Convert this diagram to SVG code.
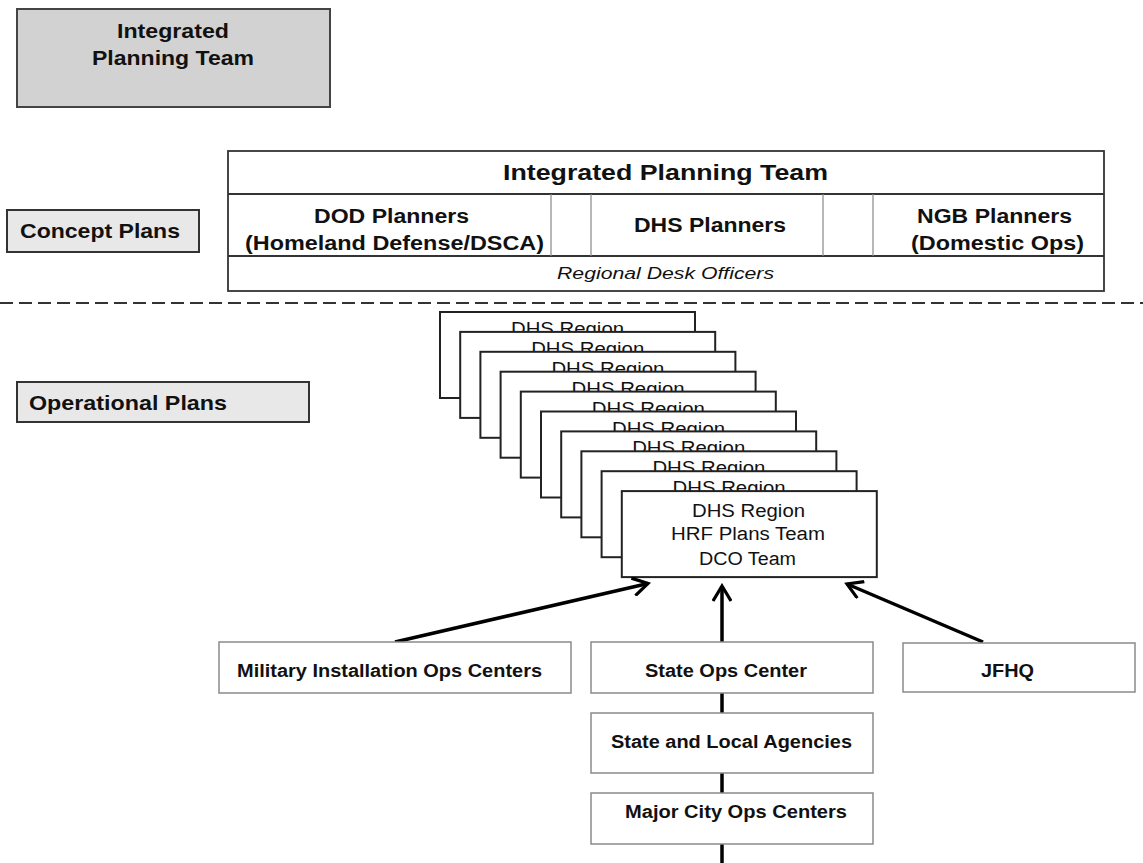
<svg xmlns="http://www.w3.org/2000/svg" width="1143" height="863" viewBox="0 0 1143 863">
<defs>
<style>
text{font-family:"Liberation Sans",Arial,sans-serif;fill:#111;}
.b{font-weight:bold;}
.lbl{fill:#e8e8e8;stroke:#333;stroke-width:2;}
.dhs{fill:#fff;stroke:#222;stroke-width:2;}
.bot{fill:#fff;stroke:#8a8a8a;stroke-width:1.5;}
.conn{stroke:#000;stroke-width:3.5;fill:none;}
.div{stroke:#888;stroke-width:1.2;}
</style>
<marker id="arr" viewBox="0 0 20 20" refX="17" refY="10" markerWidth="20" markerHeight="20" markerUnits="userSpaceOnUse" orient="auto">
<path d="M2,1 L17,10 L2,19" fill="none" stroke="#000" stroke-width="3.2" stroke-linejoin="miter"/>
</marker>
</defs>
<rect width="1143" height="863" fill="#fff"/>

<g id="ipt-top">
<rect x="17" y="9" width="313" height="98" fill="#d2d2d2" stroke="#444" stroke-width="2"/>
<text class="b" x="173" y="38" font-size="21" text-anchor="middle" textLength="112" lengthAdjust="spacingAndGlyphs">Integrated</text>
<text class="b" x="173" y="65" font-size="21" text-anchor="middle" textLength="162" lengthAdjust="spacingAndGlyphs">Planning Team</text>
</g>

<g id="concept-plans">
<rect class="lbl" x="7" y="210" width="192" height="42"/>
<text class="b" x="20" y="238" font-size="21" textLength="160" lengthAdjust="spacingAndGlyphs">Concept Plans</text>
</g>

<g id="operational-plans">
<rect class="lbl" x="17" y="382" width="292" height="40"/>
<text class="b" x="29" y="410" font-size="21" textLength="198" lengthAdjust="spacingAndGlyphs">Operational Plans</text>
</g>

<g id="ipt-table">
<rect x="228" y="151" width="876" height="140" fill="#fff" stroke="#333" stroke-width="1.8"/>
<line x1="228" y1="194" x2="1104" y2="194" stroke="#333" stroke-width="1.8"/>
<line x1="228" y1="256" x2="1104" y2="256" stroke="#333" stroke-width="1.8"/>
<line class="div" x1="551" y1="194" x2="551" y2="256"/>
<line class="div" x1="591" y1="194" x2="591" y2="256"/>
<line class="div" x1="823" y1="194" x2="823" y2="256"/>
<line class="div" x1="873" y1="194" x2="873" y2="256"/>
<text class="b" x="665.5" y="180" font-size="22" text-anchor="middle" textLength="325" lengthAdjust="spacingAndGlyphs">Integrated Planning Team</text>
<text class="b" x="391.5" y="223" font-size="20" text-anchor="middle" textLength="155" lengthAdjust="spacingAndGlyphs">DOD Planners</text>
<text class="b" x="394.5" y="250" font-size="20" text-anchor="middle" textLength="299" lengthAdjust="spacingAndGlyphs">(Homeland Defense/DSCA)</text>
<text class="b" x="710" y="232" font-size="20" text-anchor="middle" textLength="152" lengthAdjust="spacingAndGlyphs">DHS Planners</text>
<text class="b" x="994.5" y="223" font-size="20" text-anchor="middle" textLength="155" lengthAdjust="spacingAndGlyphs">NGB Planners</text>
<text class="b" x="997.5" y="250" font-size="20" text-anchor="middle" textLength="173" lengthAdjust="spacingAndGlyphs">(Domestic Ops)</text>
<text x="665.5" y="279" font-size="16" font-style="italic" text-anchor="middle" textLength="217" lengthAdjust="spacingAndGlyphs">Regional Desk Officers</text>
</g>

<line id="divider" x1="0" y1="303" x2="1143" y2="303" stroke="#333" stroke-width="2" stroke-dasharray="13 6"/>

<g id="dhs-region-1"><rect class="dhs" x="440" y="312" width="255" height="86"/><text x="567.5" y="335" font-size="18" text-anchor="middle" textLength="113" lengthAdjust="spacingAndGlyphs">DHS Region</text></g>
<g id="dhs-region-2"><rect class="dhs" x="460.2" y="331.9" width="255" height="86"/><text x="587.7" y="354.9" font-size="18" text-anchor="middle" textLength="113" lengthAdjust="spacingAndGlyphs">DHS Region</text></g>
<g id="dhs-region-3"><rect class="dhs" x="480.4" y="351.8" width="255" height="86"/><text x="607.9" y="374.8" font-size="18" text-anchor="middle" textLength="113" lengthAdjust="spacingAndGlyphs">DHS Region</text></g>
<g id="dhs-region-4"><rect class="dhs" x="500.6" y="371.7" width="255" height="86"/><text x="628.1" y="394.7" font-size="18" text-anchor="middle" textLength="113" lengthAdjust="spacingAndGlyphs">DHS Region</text></g>
<g id="dhs-region-5"><rect class="dhs" x="520.8" y="391.6" width="255" height="86"/><text x="648.3" y="414.6" font-size="18" text-anchor="middle" textLength="113" lengthAdjust="spacingAndGlyphs">DHS Region</text></g>
<g id="dhs-region-6"><rect class="dhs" x="541" y="411.5" width="255" height="86"/><text x="668.5" y="434.5" font-size="18" text-anchor="middle" textLength="113" lengthAdjust="spacingAndGlyphs">DHS Region</text></g>
<g id="dhs-region-7"><rect class="dhs" x="561.2" y="431.4" width="255" height="86"/><text x="688.7" y="454.4" font-size="18" text-anchor="middle" textLength="113" lengthAdjust="spacingAndGlyphs">DHS Region</text></g>
<g id="dhs-region-8"><rect class="dhs" x="581.4" y="451.3" width="255" height="86"/><text x="708.9" y="474.3" font-size="18" text-anchor="middle" textLength="113" lengthAdjust="spacingAndGlyphs">DHS Region</text></g>
<g id="dhs-region-9"><rect class="dhs" x="601.6" y="471.2" width="255" height="86"/><text x="729.1" y="494.2" font-size="18" text-anchor="middle" textLength="113" lengthAdjust="spacingAndGlyphs">DHS Region</text></g>
<g id="dhs-region-front">
<rect class="dhs" x="621.8" y="491.1" width="255" height="86"/>
<text x="748.5" y="517" font-size="18" text-anchor="middle" textLength="113" lengthAdjust="spacingAndGlyphs">DHS Region</text>
<text x="748" y="540" font-size="18" text-anchor="middle" textLength="154" lengthAdjust="spacingAndGlyphs">HRF Plans Team</text>
<text x="747.5" y="565" font-size="18" text-anchor="middle" textLength="97" lengthAdjust="spacingAndGlyphs">DCO Team</text>
</g>

<g id="connectors">
<line class="conn" x1="395" y1="642" x2="648" y2="583.5" marker-end="url(#arr)"/>
<line class="conn" x1="722" y1="642" x2="722" y2="586" marker-end="url(#arr)"/>
<line class="conn" x1="983" y1="642" x2="847" y2="584" marker-end="url(#arr)"/>
<line class="conn" x1="722" y1="693" x2="722" y2="713"/>
<line class="conn" x1="722" y1="773" x2="722" y2="793"/>
<line class="conn" x1="722" y1="844" x2="722" y2="863"/>
</g>

<g id="military-installation">
<rect class="bot" x="219" y="642" width="352" height="51"/>
<text class="b" x="389.5" y="677" font-size="18" text-anchor="middle" textLength="305" lengthAdjust="spacingAndGlyphs">Military Installation Ops Centers</text>
</g>
<g id="state-ops-center">
<rect class="bot" x="591" y="642" width="282" height="51"/>
<text class="b" x="726" y="677" font-size="18" text-anchor="middle" textLength="162" lengthAdjust="spacingAndGlyphs">State Ops Center</text>
</g>
<g id="jfhq">
<rect class="bot" x="903" y="643" width="232" height="49"/>
<text class="b" x="1007.5" y="677" font-size="18" text-anchor="middle" textLength="53" lengthAdjust="spacingAndGlyphs">JFHQ</text>
</g>
<g id="state-local-agencies">
<rect class="bot" x="591" y="713" width="282" height="60"/>
<text class="b" x="731.5" y="748" font-size="18" text-anchor="middle" textLength="241" lengthAdjust="spacingAndGlyphs">State and Local Agencies</text>
</g>
<g id="major-city-ops">
<rect class="bot" x="591" y="793" width="282" height="51"/>
<text class="b" x="736" y="818" font-size="18" text-anchor="middle" textLength="222" lengthAdjust="spacingAndGlyphs">Major City Ops Centers</text>
</g>
</svg>
